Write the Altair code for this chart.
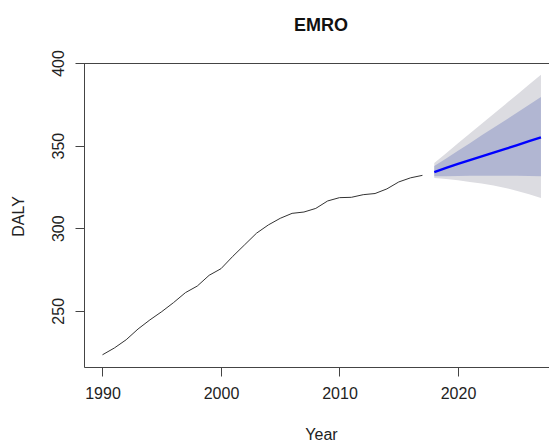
import altair as alt
import pandas as pd

hist_years = list(range(1990, 2018))
hist_values = [223.4, 227.5, 232.5, 239.0, 244.5, 249.5, 255.0, 261.0, 265.0, 271.5,
               275.5, 283.0, 290.0, 297.0, 302.0, 306.0, 309.0, 309.8, 312.0, 316.5,
               318.5, 318.7, 320.3, 321.0, 323.8, 328.0, 330.5, 332.0]

fc_years = list(range(2018, 2028))
fc_mean = [334.0, 336.5, 338.9, 341.2, 343.5, 345.8, 348.0, 350.3, 352.7, 355.0]
fc_lo80 = [331.4, 331.5, 331.6, 331.7, 331.7, 331.8, 331.8, 331.7, 331.6, 331.4]
fc_hi80 = [337.6, 342.2, 346.9, 351.5, 356.2, 360.8, 365.4, 370.1, 374.7, 379.4]
fc_lo95 = [330.4, 329.8, 329.0, 328.0, 327.0, 325.8, 324.4, 322.5, 320.5, 318.3]
fc_hi95 = [339.5, 345.4, 351.4, 357.3, 363.2, 369.2, 375.1, 381.0, 387.0, 392.9]

x_ticks = [1990, 2000, 2010, 2020]
y_ticks = [250, 300, 350, 400]
title_text = "EMRO"
x_title = "Year"
y_title = "DALY"

hist = pd.DataFrame({"Year": hist_years, "DALY": hist_values})
fc = pd.DataFrame({"Year": fc_years, "mean": fc_mean, "lo80": fc_lo80, "hi80": fc_hi80,
                   "lo95": fc_lo95, "hi95": fc_hi95})

W, H = 465, 304
FONT = "Liberation Sans"
AX = "#444444"

xs = alt.Scale(domain=[1988.44, 2027.68], nice=False, zero=False)
ys = alt.Scale(domain=[216, 400], nice=False, zero=False)

x_axis = alt.Axis(values=x_ticks, format="d", grid=False, title=x_title,
                  domainColor=AX, tickColor=AX, tickSize=9, labelFontSize=16,
                  labelFont=FONT, labelColor="#222222", labelPadding=9,
                  titleFont=FONT, titleFontSize=16, titleFontWeight="normal",
                  titleColor="#222222", titleX=237, titleY=72, titleAlign="center",
                  titleBaseline="alphabetic", labelFlush=False)
y_axis = alt.Axis(values=y_ticks, format="d", grid=False, title=y_title,
                  domainColor=AX, tickColor=AX, tickSize=9, labelFontSize=16,
                  labelFont=FONT, labelColor="#222222", labelAngle=270,
                  labelAlign="center", labelBaseline="alphabetic", labelPadding=12,
                  titleFont=FONT, titleFontSize=16, titleFontWeight="normal",
                  titleColor="#222222", titleAngle=270, titleX=-61, titleY=153,
                  titleAlign="center", titleBaseline="alphabetic", labelFlush=False)

base_fc = alt.Chart(fc)

band95 = base_fc.mark_area(color="#DCDCE1", opacity=1).encode(
    x=alt.X("Year:Q", scale=xs, axis=x_axis),
    y=alt.Y("lo95:Q", scale=ys, axis=y_axis),
    y2="hi95:Q",
)
band80 = base_fc.mark_area(color="#B1B6D2", opacity=1).encode(
    x=alt.X("Year:Q", scale=xs),
    y=alt.Y("lo80:Q", scale=ys),
    y2="hi80:Q",
)
mean_line = base_fc.mark_line(color="#0000FF", strokeWidth=2.4).encode(
    x=alt.X("Year:Q", scale=xs),
    y=alt.Y("mean:Q", scale=ys),
)
hist_line = alt.Chart(hist).mark_line(color="#333333", strokeWidth=1).encode(
    x=alt.X("Year:Q", scale=xs),
    y=alt.Y("DALY:Q", scale=ys),
)
top_rule = alt.Chart(hist).mark_rule(color=AX, strokeWidth=1).encode(
    x=alt.value(0), x2=alt.value(W), y=alt.value(0.5)
)
title_mark = alt.Chart(pd.DataFrame({"t": [title_text]})).mark_text(
    font=FONT, fontSize=18, fontWeight="bold", color="#111111",
    align="center", baseline="middle"
).encode(x=alt.value(237), y=alt.value(-37), text="t:N")

chart = alt.layer(band95, band80, mean_line, hist_line, top_rule, title_mark).properties(
    width=W, height=H,
    autosize=alt.AutoSizeParams(type="none"),
    padding={"left": 76, "top": 55, "right": 0, "bottom": 74},
).configure_view(stroke=None).configure(background="white")

chart.save("out.html", embed_options={"renderer": "svg", "actions": False})
